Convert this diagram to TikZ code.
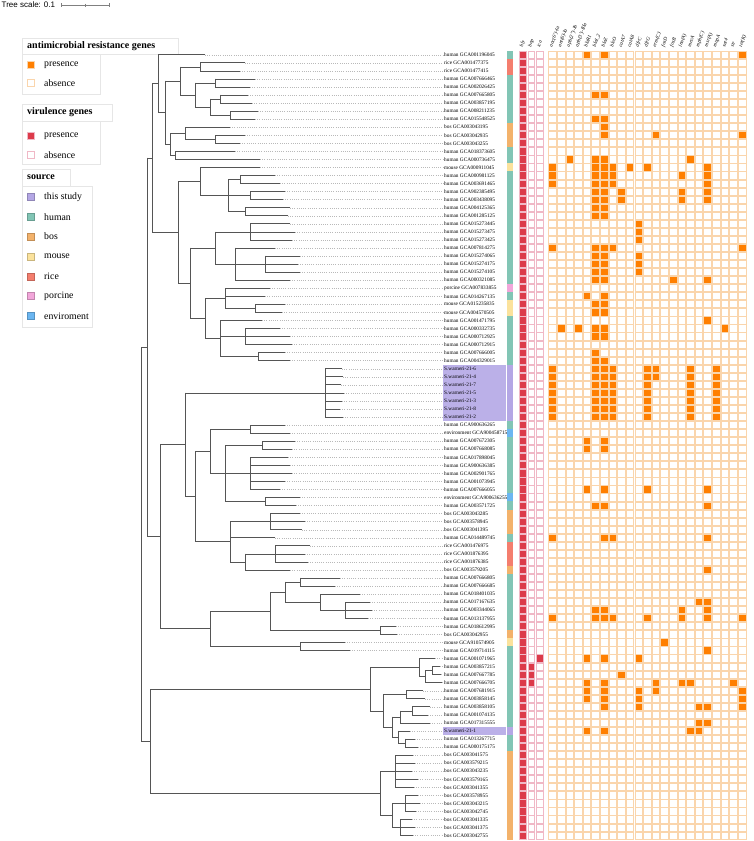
\documentclass[tikz,border=0pt]{standalone}
\usepackage{fontspec}
\setmainfont{Liberation Serif}
\newfontfamily\sansf{Liberation Sans}
\definecolor{cHum}{HTML}{82C5B5}
\definecolor{cBos}{HTML}{F3B26B}
\definecolor{cMou}{HTML}{FBE29C}
\definecolor{cRic}{HTML}{F47E6E}
\definecolor{cPor}{HTML}{F2A6DA}
\definecolor{cEnv}{HTML}{6BB6F1}
\definecolor{cStu}{HTML}{B4A7E5}
\definecolor{amrOn}{HTML}{FF7F00}
\definecolor{amrLine}{HTML}{FAD5AC}
\definecolor{virOn}{HTML}{DC3A4A}
\definecolor{virLine}{HTML}{F0B8C6}
\definecolor{treeC}{HTML}{555555}
\definecolor{boxC}{HTML}{E6E6E6}
\newcommand\vbr[3]{\draw[branch] (#1,{54.7+(#2-1)*8.05}) -- (#1,{54.7+(#3-1)*8.05});}
\newcommand\hbr[3]{\draw[branch] (#1,{54.7+(#3-1)*8.05}) -- (#2,{54.7+(#3-1)*8.05});}
\newcommand\leaf[3]{\draw[branch] (#1,{54.7+(#3-1)*8.05}) -- (#2,{54.7+(#3-1)*8.05});
  \draw[leader] (#2,{54.7+(#3-1)*8.05}) -- (443,{54.7+(#3-1)*8.05});}
\begin{document}
\begin{tikzpicture}[x=1pt,y=-1pt,
  leaflab/.style={anchor=west,inner sep=0pt,font=\fontsize{5.3}{6}\selectfont},
  hdr/.style={anchor=west,rotate=70,inner sep=0pt,font=\fontsize{5.2}{6}\selectfont\itshape},
  amrcell/.style={draw=amrLine,line width=0.8pt,fill=white},
  amrpres/.style={draw=amrLine,line width=0.8pt,fill=amrOn},
  vircell/.style={draw=virLine,line width=0.8pt,fill=white},
  virpres/.style={draw=virLine,line width=0.8pt,fill=virOn},
  leader/.style={draw=gray!55,dash pattern=on 1pt off 1.2pt,line width=0.3pt},
  branch/.style={draw=treeC,line width=0.55pt,line cap=rect},
  legtitle/.style={anchor=west,inner sep=0pt,font=\fontsize{10}{12}\selectfont\bfseries},
  legtext/.style={anchor=west,inner sep=0pt,font=\fontsize{9.8}{12}\selectfont},
  legbox/.style={draw=boxC,line width=0.6pt},
]
\useasboundingbox (0,0) rectangle (753,841);
% tree scale
\node[anchor=west,inner sep=0pt,font=\sansf\fontsize{8}{9}\selectfont] (tscale) at (1.5,5) {Tree scale: 0.1};
\coordinate (sb1) at (61.7,5);
\coordinate (sb2) at (109,5);
\draw[gray,line width=0.5pt] (sb1) -- (sb2);
\draw[gray,line width=0.5pt] (61.7,3) -- (61.7,7) (85.3,3.5) -- (85.3,6.5) (109,3) -- (109,7);
% legends
\draw[legbox] (22,38) rectangle (178,54);
\node[legtitle] (l1) at (27,46) {antimicrobial resistance genes};
\draw[legbox] (22,54) rectangle (100,94);
\path[amrpres] (27.5,61.5) rectangle ++(7,7);
\node[legtext] (l1a) at (44,65) {presence};
\path[amrcell] (27.5,79.5) rectangle ++(7,7);
\node[legtext] (l1b) at (44,83) {absence};
\draw[legbox] (22,104) rectangle (112,121);
\node[legtitle] (l2) at (27,112.5) {virulence genes};
\draw[legbox] (22,121) rectangle (100,164);
\path[virpres] (27.5,132.5) rectangle ++(7,7);
\node[legtext] (l2a) at (44,136) {presence};
\path[vircell] (27.5,151.5) rectangle ++(7,7);
\node[legtext] (l2b) at (44,155) {absence};
\draw[legbox] (22,169) rectangle (70,186);
\node[legtitle] (l3) at (27,177.5) {source};
\draw[legbox] (22,186) rectangle (92.5,327);
\foreach \c/\t [count=\i] in {cStu/this study,cHum/human,cBos/bos,cMou/mouse,cRic/rice,cPor/porcine,cEnv/enviroment}{
  \path[fill=\c,draw=\c!80!black,line width=0.3pt] (27.5,{193.5+(\i-1)*19.8}) rectangle ++(7,7);
  \node[legtext] (ls\i) at (44,{197+(\i-1)*19.8}) {\t};
}
% highlights
\fill[cStu!90] (442.5,{54.7+39*8.05-4}) rectangle (505.5,{54.7+45*8.05+4});
\fill[cStu!90] (442.5,{54.7+84*8.05-4}) rectangle (505.5,{54.7+84*8.05+4});
% ---------------- tree ----------------
% A1 rows 1-14
\leaf{158}{205}{1}
\vbr{200}{2}{3}\leaf{200}{245}{2}\leaf{200}{240}{3}
\vbr{215}{4}{5}\leaf{215}{255}{4}\leaf{215}{250}{5}
\vbr{220}{6}{7}\leaf{220}{248}{6}\leaf{220}{252}{7}
\vbr{230}{8}{9}\leaf{230}{258}{8}\leaf{230}{255}{9}
\vbr{210}{6.5}{8.5}\hbr{210}{220}{6.5}\hbr{210}{230}{8.5}
\vbr{195}{4.5}{7.5}\hbr{195}{215}{4.5}\hbr{195}{210}{7.5}
\vbr{180}{2.5}{6}\hbr{180}{200}{2.5}\hbr{180}{195}{6}
\vbr{215}{11}{12}\leaf{215}{245}{11}\leaf{215}{240}{12}
\vbr{185}{10}{11.5}\leaf{185}{230}{10}\hbr{185}{215}{11.5}
\vbr{175}{13}{14}\leaf{175}{235}{13}\leaf{175}{260}{14}
\vbr{170}{10.75}{13.5}\hbr{170}{185}{10.75}\hbr{170}{175}{13.5}
\vbr{165}{4.25}{12.125}\hbr{165}{180}{4.25}\hbr{165}{170}{12.125}
\vbr{158}{1}{8.1875}\hbr{158}{165}{8.1875}
% A2 rows 15-39
\vbr{240}{16}{17}\leaf{240}{275}{16}\leaf{240}{280}{17}
\vbr{250}{18}{19}\leaf{250}{285}{18}\leaf{250}{283}{19}
\vbr{245}{20}{21}\leaf{245}{290}{20}\leaf{245}{288}{21}
\vbr{228}{16.5}{20.5}\hbr{228}{240}{16.5}\hbr{228}{250}{18.5}\hbr{228}{245}{20.5}
\vbr{200}{15}{18.5}\leaf{200}{260}{15}\hbr{200}{228}{18.5}
\vbr{250}{22}{24}\leaf{250}{290}{22}\leaf{250}{295}{23}\leaf{250}{292}{24}
\vbr{265}{26}{28}\leaf{265}{300}{26}\leaf{265}{298}{27}\leaf{265}{300}{28}
\vbr{235}{25}{29}\leaf{235}{275}{25}\hbr{235}{265}{27}\leaf{235}{290}{29}
\vbr{215}{23}{27}\hbr{215}{250}{23}\hbr{215}{235}{27}
\vbr{255}{32}{33}\leaf{255}{285}{32}\leaf{255}{282}{33}
\vbr{225}{30}{32.5}\leaf{225}{270}{30}\leaf{225}{265}{31}\hbr{225}{255}{32.5}
\vbr{245}{35}{37}\leaf{245}{280}{35}\leaf{245}{290}{36}\leaf{245}{292}{37}
\vbr{258}{38}{39}\leaf{258}{285}{38}\leaf{258}{290}{39}
\vbr{220}{34}{38.5}\leaf{220}{262}{34}\hbr{220}{245}{36}\hbr{220}{258}{38.5}
\vbr{205}{31.25}{36.25}\hbr{205}{225}{31.25}\hbr{205}{220}{36.25}
\vbr{190}{25}{33.75}\hbr{190}{215}{25}\hbr{190}{205}{33.75}
\vbr{178}{16.75}{29.375}\hbr{178}{200}{16.75}\hbr{178}{190}{29.375}
% A3 rows 40-46
\vbr{325}{40}{46}
\foreach \r/\t in {40/342,41/343,42/341,43/344,44/342,45/340,46/343}{\leaf{325}{\t}{\r}}
% A4 rows 47-65
\vbr{250}{47}{48}\leaf{250}{285}{47}\leaf{250}{290}{48}
\vbr{262}{49}{50}\leaf{262}{295}{49}\leaf{262}{292}{50}
\vbr{250}{51}{55}
\foreach \r/\t in {51/288,52/290,53/292,54/285,55/280}{\leaf{250}{\t}{\r}}
\vbr{265}{56}{57}\leaf{265}{300}{56}\leaf{265}{296}{57}
\vbr{225}{49.5}{56.5}\hbr{225}{262}{49.5}\hbr{225}{250}{53}\hbr{225}{265}{56.5}
\vbr{210}{47.5}{53}\hbr{210}{250}{47.5}\hbr{210}{225}{53}
\vbr{270}{58}{60}\leaf{270}{300}{58}\leaf{270}{305}{59}\leaf{270}{302}{60}
\vbr{275}{62}{64}\leaf{275}{310}{62}\leaf{275}{305}{63}\leaf{275}{308}{64}
\vbr{245}{63}{65}\hbr{245}{275}{63}\leaf{245}{290}{65}
\vbr{230}{59}{64}\hbr{230}{270}{59}\leaf{230}{275}{61}\hbr{230}{245}{64}
\vbr{195}{50.25}{61.5}\hbr{195}{210}{50.25}\hbr{195}{230}{61.5}
\vbr{185}{43}{55.875}\hbr{185}{325}{43}\hbr{185}{195}{55.875}
% A5 rows 66-75
\vbr{300}{66}{67}\leaf{300}{340}{66}\leaf{300}{335}{67}
\vbr{345}{69}{71}\leaf{345}{370}{69}\leaf{345}{372}{70}\leaf{345}{368}{71}
\vbr{320}{68}{70}\leaf{320}{360}{68}\hbr{320}{345}{70}
\vbr{285}{66.5}{69}\hbr{285}{300}{66.5}\hbr{285}{320}{69}
\vbr{380}{72}{73}\leaf{380}{396}{72}\leaf{380}{397}{73}
\vbr{270}{67.75}{72.5}\hbr{270}{285}{67.75}\hbr{270}{380}{72.5}
\vbr{300}{74}{75}\leaf{300}{345}{74}\leaf{300}{350}{75}
\vbr{210}{70.125}{74.5}\hbr{210}{270}{70.125}\hbr{210}{300}{74.5}
% A top
\vbr{152}{4.59375}{23.0625}\hbr{152}{158}{4.59375}\hbr{152}{178}{23.0625}
\vbr{160}{49.4375}{72.3125}\hbr{160}{185}{49.4375}\hbr{160}{210}{72.3125}
\vbr{147}{13.828}{60.875}\hbr{147}{152}{13.828}\hbr{147}{160}{60.875}
% B1 rows 76-87
\vbr{432}{77}{78}\leaf{432}{440}{77}\leaf{432}{441}{78}
\vbr{425}{77.5}{79}\hbr{425}{432}{77.5}\leaf{425}{442}{79}
\vbr{419}{76}{78.25}\leaf{419}{435}{76}\hbr{419}{425}{78.25}
\vbr{406}{80}{81}\leaf{406}{423}{80}\leaf{406}{425}{81}
\vbr{412}{82}{83}\leaf{412}{430}{82}\leaf{412}{428}{83}
\vbr{400}{82.5}{84}\hbr{400}{412}{82.5}\leaf{400}{430}{84}
\vbr{405}{86}{87}\leaf{405}{415}{86}\leaf{405}{418}{87}
\vbr{398}{85}{86.5}\leaf{398}{410}{85}\hbr{398}{405}{86.5}
\vbr{392}{83.25}{85.75}\hbr{392}{400}{83.25}\hbr{392}{398}{85.75}
\vbr{383}{80.5}{84.5}\hbr{383}{406}{80.5}\hbr{383}{392}{84.5}
\vbr{370}{77.125}{82.5}\hbr{370}{419}{77.125}\hbr{370}{383}{82.5}
% B2 rows 88-98
\vbr{395}{88}{92}
\foreach \r/\t in {88/413,89/415,90/412,91/418,92/414}{\leaf{395}{\t}{\r}}
\vbr{405}{93}{95}\leaf{405}{418}{93}\leaf{405}{420}{94}\leaf{405}{416}{95}
\vbr{400}{96}{98}\leaf{400}{412}{96}\leaf{400}{415}{97}\leaf{400}{413}{98}
\vbr{392}{94}{97}\hbr{392}{405}{94}\hbr{392}{400}{97}
\vbr{380}{90}{95.5}\hbr{380}{395}{90}\hbr{380}{392}{95.5}
\vbr{150}{79.8125}{92.75}\hbr{150}{370}{79.8125}\hbr{150}{380}{92.75}
% root
\vbr{141}{37.35}{86.28}\hbr{141}{147}{37.35}\hbr{141}{150}{86.28}
% labels
\foreach \lab [count=\k] in {human GCA001196045,rice GCA001477375,rice GCA001477415,human GCA007666465,human GCA002026425,human GCA007665805,human GCA003857195,human GCA008211235,human GCA015548525,bos GCA003043195,bos GCA003042935,bos GCA003043255,human GCA018373605,human GCA000736475,mouse GCA000911045,human GCA000981125,human GCA003691465,human GCA902385495,human GCA003438095,human GCA004125365,human GCA001285125,human GCA015273445,human GCA015273475,human GCA015273425,human GCA007814275,human GCA015274065,human GCA015274175,human GCA015274105,human GCA000321085,porcine GCA007833855,human GCA014267135,mouse GCA015235835,mouse GCA004570505,human GCA001471795,human GCA000332735,human GCA000712925,human GCA000712915,human GCA007666005,human GCA004329015,S.warneri-21-6,S.warneri-21-4,S.warneri-21-7,S.warneri-21-5,S.warneri-21-3,S.warneri-21-8,S.warneri-21-2,human GCA900636265,environment GCA900458715,human GCA007672305,human GCA007668085,human GCA017898045,human GCA900636385,human GCA002901765,human GCA001073945,human GCA007666055,environment GCA900636255,human GCA003571725,bos GCA003043285,bos GCA003578945,bos GCA003041395,human GCA014489745,rice GCA001476975,rice GCA001876395,rice GCA001876385,bos GCA003579205,human GCA007666805,human GCA007666685,human GCA018401035,human GCA017167635,human GCA003344065,human GCA013137955,human GCA018612995,bos GCA003042955,mouse GCA910574905,human GCA019714115,human GCA001071965,human GCA003857215,human GCA007667785,human GCA007666705,human GCA007681915,human GCA003858145,human GCA003858105,human GCA001074135,human GCA017315555,S.warneri-21-1,human GCA013267715,human GCA000175175,bos GCA003041575,bos GCA003579215,bos GCA003043235,bos GCA003579165,bos GCA003041355,bos GCA003578955,bos GCA003043215,bos GCA003042745,bos GCA003041335,bos GCA003041375,bos GCA003042755}{
  \node[leaflab] (lab\k) at (444,{54.7+(\k-1)*8.05}) {\lab};
}
% source strip
\foreach \a/\b/\c in {1/1/cHum,2/3/cRic,4/9/cHum,10/12/cBos,13/14/cHum,15/15/cMou,16/29/cHum,30/30/cPor,31/31/cHum,32/33/cMou,34/39/cHum,40/46/cStu,47/47/cHum,48/48/cEnv,49/55/cHum,56/56/cEnv,57/57/cHum,58/60/cBos,61/61/cHum,62/64/cRic,65/65/cBos,66/72/cHum,73/73/cBos,74/74/cMou,75/84/cHum,85/85/cStu,86/87/cHum,88/98/cBos}{
  \fill[\c] (507,{54.7+(\a-1)*8.05-4.03}) rectangle (513.3,{54.7+(\b-1)*8.05+4.03});
}
% virulence cells
\foreach \k in {1,...,98}{
  \path[virpres] (519.6,{54.7+(\k-1)*8.05-3.6}) rectangle ++(6.8,7.2);
  \path[vircell] (527.9,{54.7+(\k-1)*8.05-3.6}) rectangle ++(6.8,7.2);
  \path[vircell] (536.2,{54.7+(\k-1)*8.05-3.6}) rectangle ++(6.8,7.2);
}
\foreach \k in {77,78,79}{\path[virpres] (527.9,{54.7+(\k-1)*8.05-3.6}) rectangle ++(6.8,7.2);}
\path[virpres] (536.2,{54.7+75*8.05-3.6}) rectangle ++(6.8,7.2);
% AMR cells
\foreach \k in {1,...,98}{
  \foreach \c in {1,...,23}{
    \path[amrcell] ({548.7+(\c-1)*8.62},{54.7+(\k-1)*8.05-3.6}) rectangle ++(7.6,7.2);
  }
}
\foreach \k/\c in {1/5,1/7,1/23,6/6,6/7,9/6,9/7,10/7,11/7,11/13,11/23,14/3,14/6,14/7,14/17,
15/1,15/6,15/7,15/8,15/10,15/12,15/19,16/1,16/6,16/7,16/8,16/16,16/19,17/1,17/6,17/7,17/8,17/19,
18/6,18/7,18/9,18/16,18/19,19/6,19/7,19/9,19/16,19/19,20/6,20/7,21/6,21/7,22/11,23/11,24/11,
25/1,25/6,25/7,25/8,25/23,26/6,26/7,26/11,27/6,27/7,27/11,28/6,28/7,28/11,29/6,29/7,29/15,29/19,
31/5,31/7,32/6,32/7,33/6,33/7,34/19,35/2,35/4,35/6,35/7,35/21,36/6,36/7,38/6,39/6,39/7,
40/13,41/13,49/5,49/7,50/5,50/7,55/5,55/7,55/12,55/19,57/6,57/7,57/19,61/1,61/7,61/8,61/19,65/19,
69/18,69/19,70/6,70/7,70/16,70/19,71/1,71/6,71/7,71/8,71/12,71/16,71/19,71/23,74/14,75/19,
76/5,76/7,76/11,78/9,79/5,79/7,79/13,79/16,79/17,79/22,80/5,80/7,80/11,80/13,80/23,
81/5,81/7,81/11,81/23,82/7,82/11,82/18,82/19,82/23,84/18,84/19,85/5,85/7,85/17,85/18}{
  \path[amrpres] ({548.7+(\c-1)*8.62},{54.7+(\k-1)*8.05-3.6}) rectangle ++(7.6,7.2);
}
\foreach \k in {40,...,46}{\foreach \c in {1,6,7,8,12,17,20}{
  \path[amrpres] ({548.7+(\c-1)*8.62},{54.7+(\k-1)*8.05-3.6}) rectangle ++(7.6,7.2);
}}
% headers
\foreach \t/\x in {hly/523,bap/531.3,ica/539.6}{\node[hdr] (h\t) at (\x-1.5,47) {\t};}
\foreach \t [count=\c] in {aac(6')-Ia,ant(6)-Ia,aph(2'')-Ih,aph(3')-IIIa,blaR1,blaI\_2,blaZ,bleO,catA7,catA8,dfrC,dfrG,erm(C),fosD,fosB,lnu(A),mecA,mph(C),msr(A),mupA,sat4,str,tet(K)}{
  \node[hdr] (g\c) at ({548.7+(\c-1)*8.62+2.3},47) {\t};
}
\end{tikzpicture}
\end{document}
